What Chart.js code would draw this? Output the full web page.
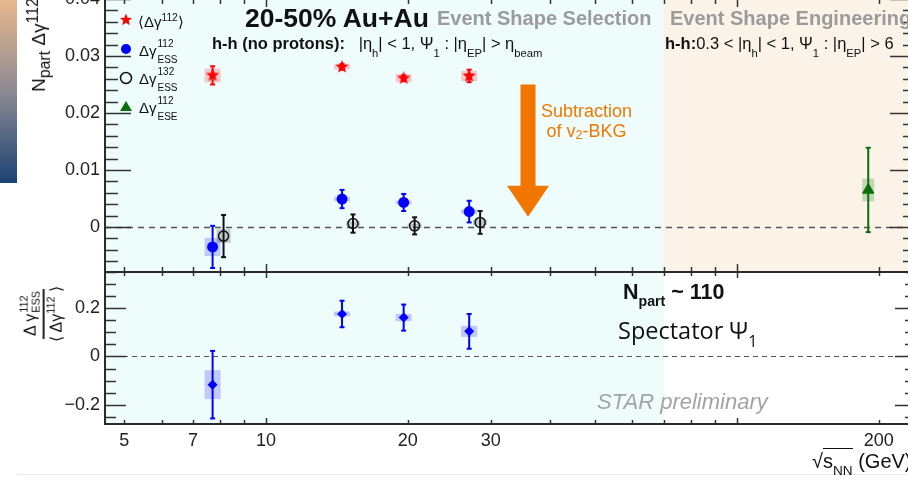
<!DOCTYPE html>
<html>
<head>
<meta charset="utf-8">
<script src="https://cdn.jsdelivr.net/npm/chart.js@4.4.1/dist/chart.umd.min.js"></script>
<style>
  html, body { margin: 0; padding: 0; background: #fff; }
  #fig { position: relative; width: 908px; height: 477px; overflow: hidden; background: #fff;
         font-family: "Liberation Sans", Arial, sans-serif; color: #111; }
  #fig canvas { position: absolute; left: 0; }
  #topCanvas { top: -20px; }
  #botCanvas { top: 260px; }
  .t { position: absolute; white-space: nowrap; line-height: 1; }
  .t sub, .t sup { font-size: 0.68em; line-height: 0; }
  .t sub { vertical-align: -0.5em; }
  .t sup { vertical-align: 0.6em; }
  .math sub { vertical-align: -0.75em; }
  /* stacked super/subscript pair */
  .ss { display: inline-block; position: relative; height: 0; vertical-align: baseline; font-size: 10px; line-height: 1; }
  .ss span { position: absolute; left: 1px; }
  .ss .u { top: -17px; }
  .ss .d { top: -1px; }
  .grey { color: #9b9b9b; font-weight: bold; font-size: 20px; }
  .leg { font-size: 15px; }
  .orange { color: #f07800; font-size: 18px; line-height: 20px; text-align: center; }
  .orange sub { vertical-align: -0.15em; font-size: 0.7em; }
  .rot { position: absolute; transform: translate(-50%, -50%) rotate(-90deg); white-space: nowrap; }
  .frac { display: inline-flex; flex-direction: column; align-items: center; font-size: 16px; line-height: 1.15; }
  .frac .num { border-bottom: 2.5px solid #222; padding: 0 3px 3px; }
  .frac .den { padding-top: 3px; }
  .frac sup { font-size: 0.68em; vertical-align: 0.6em; line-height: 0; }
  .sqrt { border-top: 1.5px solid #111; padding-top: 1px; }
</style>
</head>
<body>
<div id="fig">
  <div style="position:absolute;left:0;top:0;width:17px;height:183px;background:linear-gradient(#e8b88e,#8c8a92 50%,#1c4273);"></div>
  <div style="position:absolute;left:17px;top:474px;width:891px;height:1px;background:#ececec;"></div>

  <canvas id="topCanvas" width="940" height="300"></canvas>
  <canvas id="botCanvas" width="940" height="217"></canvas>

  <!-- axis titles -->
  <div class="rot" style="left:39px;top:45px;font-size:19px;line-height:24px;">N<sub>part</sub> Δγ<sup>112</sup></div>
  <div class="rot" style="left:44px;top:314px;">
    <div class="frac"><span class="num">Δ γ<span class="ss" style="width:22px;font-size:11px;"><span class="u" style="top:-17px;">112</span><span class="d" style="top:-5px;">ESS</span></span></span><span class="den">⟨ Δγ<sup>112</sup> ⟩</span></div>
  </div>
  <div class="t" style="left:812px;top:451px;font-size:20px;">√<span class="sqrt">s<sub>NN</sub></span> (GeV)</div>

  <!-- legend -->
  <div class="t leg" style="left:138px;top:14px;">⟨Δγ<sup>112</sup>⟩</div>
  <div class="t leg" style="left:139px;top:43px;">Δγ<span class="ss" style="width:21px;"><span class="u">112</span><span class="d">ESS</span></span></div>
  <div class="t leg" style="left:139px;top:71px;">Δγ<span class="ss" style="width:21px;"><span class="u">132</span><span class="d">ESS</span></span></div>
  <div class="t leg" style="left:139px;top:100px;">Δγ<span class="ss" style="width:21px;"><span class="u">112</span><span class="d">ESE</span></span></div>

  <!-- headers -->
  <div class="t" style="left:245px;top:5px;font-weight:bold;font-size:26.5px;">20-50% Au+Au</div>
  <div class="t grey" style="left:437px;top:8px;">Event Shape Selection</div>
  <div class="t grey" style="left:670px;top:8px;">Event Shape Engineering</div>
  <div class="t math" style="left:212px;top:35px;font-size:16.5px;"><b style="font-size:16.5px;">h-h (no protons):</b>&nbsp;&nbsp; |η<sub>h</sub>| &lt; 1, Ψ<sub>1</sub> : |η<sub>EP</sub>| &gt; η<sub>beam</sub></div>
  <div class="t math" style="left:665px;top:35px;font-size:16.5px;"><b>h-h:</b>0.3 &lt; |η<sub>h</sub>| &lt; 1, Ψ<sub>1</sub> : |η<sub>EP</sub>| &gt; 6</div>
  <div class="t orange" style="left:541px;top:101px;">Subtraction<br>of v<sub>2</sub>-BKG</div>

  <div class="t" style="left:623px;top:282px;font-weight:bold;font-size:21.5px;">N<sub style="font-size:0.66em;">part</sub> ~ 110</div>
  <div class="t" style="left:618px;top:319px;font-size:23.5px;font-family:'Open Sans',sans-serif;">Spectator Ψ<sub>1</sub></div>
  <div class="t" style="left:597px;top:391px;font-size:22px;font-style:italic;color:#a3a3a3;">STAR preliminary</div>
</div>

<script>
// collision energies (GeV) of the event-shape-selection points
const energies = [7.7, 14.5, 19.6, 27];
const inclusive112 = [0.0266, 0.0281, 0.0261, 0.0265];
const inclusive112Stat = [0.0016, 0.0005, 0.0005, 0.0011];
const inclusive112Sys = [0.0012, 0.0004, 0.0007, 0.0009];

const ess112 = [-0.0035, 0.0049, 0.0043, 0.0027];
const ess112Stat = [0.0037, 0.0016, 0.0015, 0.0019];
const ess112Sys = [0.0016, 0.0004, 0.0003, 0.0004];

const ess132 = [-0.0016, 0.0006, 0.0002, 0.0008];
const ess132Stat = [0.0037, 0.0016, 0.0015, 0.0020];
const ess132Sys = [0.0012, 0.0004, 0.0004, 0.0005];

const eseEnergies = [200];
const ese112 = [0.0065];
const ese112Stat = [0.0074];
const ese112Sys = [0.0020];

// ratio Δγ112_ESS / <Δγ112>
const ratio = [-0.117, 0.176, 0.161, 0.104];
const ratioStat = [0.14, 0.055, 0.054, 0.072];
const ratioSys = [0.06, 0.010, 0.015, 0.023];

const xTickLabels = [5, 7, 10, 20, 30, 200];
const topYTicks = [0, 0.01, 0.02, 0.03, 0.04];
const botYTicks = [-0.2, 0, 0.2];

const xRange = [4.55, 240];
const eseBoundary = 70;          // energy where the ESE band starts
const bkgArrow = { x: 36, from: 0.025, to: 0.0018 };

// small horizontal offsets so overlapping points stay visible
const shift132 = 1.055;
const shiftEse = 0.95;

const CYAN = '#effcfc';
const BEIGE = '#fcf3e8';

function starPath(g, cx, cy, ro, ri) {
  g.beginPath();
  for (let k = 0; k < 10; k++) {
    const r = k % 2 ? ri : ro;
    const ang = -Math.PI / 2 + k * Math.PI / 5;
    const px = cx + r * Math.cos(ang), py = cy + r * Math.sin(ang);
    k ? g.lineTo(px, py) : g.moveTo(px, py);
  }
  g.closePath();
}

function starImage(r, color) {
  const c = document.createElement('canvas');
  const s = Math.ceil(r * 2 + 2);
  c.width = s; c.height = s;
  const g = c.getContext('2d');
  starPath(g, s / 2, s / 2, r, r * 0.42);
  g.fillStyle = color;
  g.fill();
  return c;
}

const pts = (xs, ys, shift = 1) => xs.map((e, i) => ({ x: e * shift, y: ys[i] }));

function xTickValues(min, max) {
  const out = [];
  for (let d = 1; d <= 1000; d *= 10)
    for (let m = 1; m <= 9; m++) {
      const v = m * d;
      if (v >= min && v <= max) out.push({ v, major: m === 1 });
    }
  return out;
}

function line(ctx, x0, y0, x1, y1) {
  ctx.beginPath(); ctx.moveTo(x0, y0); ctx.lineTo(x1, y1); ctx.stroke();
}

// ROOT-like frame: shaded bands, zero line, error bars and boxes, inward ticks
function panelPlugin(o) {
  return {
    id: 'panel',
    beforeDraw(chart) {
      const { ctx, chartArea: a, scales: { x } } = chart;
      ctx.save();
      o.bands.forEach(b => {
        const x0 = b.from == null ? a.left : x.getPixelForValue(b.from);
        const x1 = b.to == null ? a.right : x.getPixelForValue(b.to);
        ctx.fillStyle = b.color;
        ctx.fillRect(x0, a.top, x1 - x0, a.bottom - a.top);
      });
      ctx.restore();
    },
    beforeDatasetsDraw(chart) {
      const { ctx, chartArea: a, scales: { y } } = chart;
      ctx.save();
      const y0 = Math.round(y.getPixelForValue(0)) + 0.5;
      ctx.strokeStyle = '#555';
      ctx.lineWidth = o.zeroWidth;
      ctx.setLineDash(o.zeroDash);
      line(ctx, a.left, y0, a.right, y0);
      ctx.setLineDash([]);

      chart.data.datasets.forEach((ds, i) => {
        const meta = chart.getDatasetMeta(i);
        meta.data.forEach((p, j) => {
          const v = ds.data[j].y;
          const t = y.getPixelForValue(v + ds.sys[j]);
          const b = y.getPixelForValue(v - ds.sys[j]);
          ctx.fillStyle = ds.boxColor;
          ctx.fillRect(p.x - ds.boxHalf, t, 2 * ds.boxHalf, b - t);
        });
      });
      chart.data.datasets.forEach((ds, i) => {
        const meta = chart.getDatasetMeta(i);
        ctx.strokeStyle = ds.barColor;
        ctx.lineWidth = 2;
        meta.data.forEach((p, j) => {
          const v = ds.data[j].y;
          const t = y.getPixelForValue(v + ds.stat[j]);
          const b = y.getPixelForValue(v - ds.stat[j]);
          line(ctx, p.x, t, p.x, b);
          line(ctx, p.x - 2.5, t, p.x + 2.5, t);
          line(ctx, p.x - 2.5, b, p.x + 2.5, b);
        });
      });
      ctx.restore();
    },
    afterDatasetsDraw(chart) {
      if (o.extra) o.extra(chart);
    },
    afterDraw(chart) {
      const { ctx, chartArea: a, scales: { x, y } } = chart;
      ctx.save();
      ctx.strokeStyle = '#333';
      ctx.lineWidth = 1.5;

      // y ticks, left and mirrored on the right
      const n0 = Math.ceil(y.min / o.yMinor - 1e-6), n1 = Math.floor(y.max / o.yMinor + 1e-6);
      for (let k = n0; k <= n1; k++) {
        const v = k * o.yMinor;
        const py = Math.round(y.getPixelForValue(v)) + 0.5;
        const major = o.yTicks.some(m => Math.abs(m - v) < o.yMinor / 10);
        const len = major ? o.yMajLen : o.yMinLen;
        line(ctx, a.left, py, a.left + len, py);
        line(ctx, a.right, py, a.right - len, py);
      }
      // x ticks, bottom and top
      xTickValues(x.min, x.max).forEach(t => {
        const px = Math.round(x.getPixelForValue(t.v)) + 0.5;
        const len = t.major ? o.xMajLen : o.xMinLen;
        line(ctx, px, a.bottom, px, a.bottom - len);
        line(ctx, px, a.top, px, a.top + len);
      });

      ctx.lineWidth = 2;
      ctx.strokeStyle = '#2b2b2b';
      ctx.strokeRect(a.left, a.top, a.right - a.left, a.bottom - a.top);

      ctx.fillStyle = '#222';
      ctx.font = '18px "Liberation Sans", Arial, sans-serif';
      ctx.textAlign = 'right';
      ctx.textBaseline = 'middle';
      o.yTicks.forEach(v => ctx.fillText(o.fmt(v), a.left - 5, y.getPixelForValue(v)));

      if (o.xLabels) {
        ctx.textAlign = 'center';
        ctx.textBaseline = 'alphabetic';
        o.xLabels.forEach(v => ctx.fillText(String(v), x.getPixelForValue(v), a.bottom + 22));
      }
      ctx.restore();
    }
  };
}

const starImg = starImage(7, '#ff0000');

function drawLegendAndArrow(chart) {
  const { ctx, scales: { x, y } } = chart;
  ctx.save();
  // legend markers (canvas y = page y + 20)
  const lx = 126;
  starPath(ctx, lx, 40, 6.5, 2.8); ctx.fillStyle = '#ff0000'; ctx.fill();
  ctx.beginPath(); ctx.arc(lx, 69, 5, 0, Math.PI * 2); ctx.fillStyle = '#0000ff'; ctx.fill();
  ctx.beginPath(); ctx.arc(lx, 98, 5.5, 0, Math.PI * 2); ctx.strokeStyle = '#111'; ctx.lineWidth = 1.5; ctx.stroke();
  ctx.beginPath(); ctx.moveTo(lx, 121); ctx.lineTo(lx + 6, 131); ctx.lineTo(lx - 6, 131); ctx.closePath();
  ctx.fillStyle = '#0b6e0b'; ctx.fill();

  // v2 background subtraction arrow
  const ax = x.getPixelForValue(bkgArrow.x);
  const top = y.getPixelForValue(bkgArrow.from);
  const tip = y.getPixelForValue(bkgArrow.to);
  const headLen = 31, headHalf = 21, shaftHalf = 7.5;
  ctx.fillStyle = '#f07600';
  ctx.fillRect(ax - shaftHalf, top, 2 * shaftHalf, tip - headLen - top + 1);
  ctx.beginPath();
  ctx.moveTo(ax - headHalf, tip - headLen);
  ctx.lineTo(ax + headHalf, tip - headLen);
  ctx.lineTo(ax, tip);
  ctx.closePath();
  ctx.fill();
  ctx.restore();
}

const baseOptions = {
  responsive: false,
  devicePixelRatio: 1,
  animation: false,
  events: [],
  plugins: { legend: { display: false }, tooltip: { enabled: false } },
};

new Chart(document.getElementById('topCanvas'), {
  type: 'scatter',
  data: {
    datasets: [
      { data: pts(energies, inclusive112), pointStyle: starImg, pointRadius: 7,
        stat: inclusive112Stat, sys: inclusive112Sys, barColor: '#ff0000', boxColor: 'rgba(255,0,0,0.2)', boxHalf: 8 },
      { data: pts(energies, ess112), pointStyle: 'circle', pointRadius: 5.5, backgroundColor: '#0000ff', borderColor: '#0000ff', borderWidth: 0,
        stat: ess112Stat, sys: ess112Sys, barColor: '#0000ff', boxColor: 'rgba(0,0,255,0.2)', boxHalf: 8 },
      { data: pts(energies, ess132, shift132), pointStyle: 'circle', pointRadius: 5, backgroundColor: 'rgba(0,0,0,0)', borderColor: '#111', borderWidth: 1.5,
        stat: ess132Stat, sys: ess132Sys, barColor: '#111', boxColor: 'rgba(0,0,0,0.2)', boxHalf: 7 },
      { data: pts(eseEnergies, ese112, shiftEse), pointStyle: 'triangle', pointRadius: 6.5, backgroundColor: '#0b6e0b', borderColor: '#0b6e0b', borderWidth: 1,
        stat: ese112Stat, sys: ese112Sys, barColor: '#0b6e0b', boxColor: 'rgba(0,110,0,0.22)', boxHalf: 6 },
    ]
  },
  options: {
    ...baseOptions,
    layout: { padding: { left: 105, right: 24, top: 19, bottom: 8 } },
    scales: {
      x: { type: 'logarithmic', min: xRange[0], max: xRange[1], display: false },
      y: { type: 'linear', min: -0.0079, max: 0.04, display: false },
    }
  },
  plugins: [panelPlugin({
    bands: [{ from: null, to: eseBoundary, color: CYAN }, { from: eseBoundary, to: null, color: BEIGE }],
    zeroWidth: 1.5, zeroDash: [6, 5],
    yTicks: topYTicks, yMinor: 0.002, yMajLen: 26, yMinLen: 13,
    xMajLen: 8, xMinLen: 5,
    fmt: v => v === 0 ? '0' : v.toFixed(2),
    extra: drawLegendAndArrow,
  })]
});

new Chart(document.getElementById('botCanvas'), {
  type: 'scatter',
  data: {
    datasets: [
      { data: pts(energies, ratio), pointStyle: 'rectRot', pointRadius: 5, backgroundColor: '#0000ff', borderColor: '#0000ff', borderWidth: 0,
        stat: ratioStat, sys: ratioSys, barColor: '#0000ff', boxColor: 'rgba(0,0,255,0.2)', boxHalf: 8 },
    ]
  },
  options: {
    ...baseOptions,
    layout: { padding: { left: 105, right: 24, top: 12, bottom: 53 } },
    scales: {
      x: { type: 'logarithmic', min: xRange[0], max: xRange[1], display: false },
      y: { type: 'linear', min: -0.28, max: 0.35, display: false },
    }
  },
  plugins: [panelPlugin({
    bands: [{ from: null, to: eseBoundary, color: CYAN }],
    zeroWidth: 1.2, zeroDash: [5, 4],
    yTicks: botYTicks, yMinor: 0.05, yMajLen: 21, yMinLen: 11,
    xMajLen: 6, xMinLen: 4,
    fmt: v => v === 0 ? '0' : (v < 0 ? '\u2212' : '') + Math.abs(v).toFixed(1),
    xLabels: xTickLabels,
  })]
});
</script>
</body>
</html>
